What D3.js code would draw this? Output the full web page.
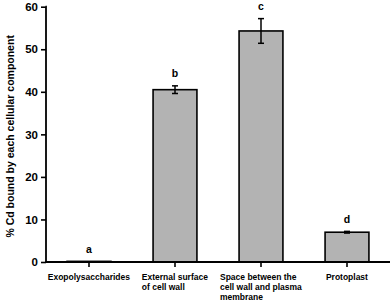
<!DOCTYPE html>
<html><head><meta charset="utf-8">
<script src="https://cdn.jsdelivr.net/npm/d3@7"></script>
<style>body{margin:0;background:#fff}svg{display:block}text{font-family:"Liberation Sans",Arial,sans-serif;font-weight:bold}</style>
</head><body>
<svg id="c" width="392" height="303"></svg>
<script>
const categories = [
  ["Exopolysaccharides"],
  ["External surface", "of cell wall"],
  ["Space between the", "cell wall and plasma", "membrane"],
  ["Protoplast"]
];
const values = [0.15, 40.5, 54.3, 7.0];
const errors = [0.0, 0.9, 2.9, 0.2];
const letters = ["a", "b", "c", "d"];
const yTicks = [0, 10, 20, 30, 40, 50, 60];
const yTitle = "% Cd bound by each cellular component";

(function () {
const svg = d3.select("#c");
const mLeft = 46, mRight = 390, mTop = 6.7, mBottom = 262;
const x = d3.scaleBand().domain(d3.range(categories.length)).range([mLeft, mRight]).paddingInner(0.49).paddingOuter(0.245);
const y = d3.scaleLinear().domain([0, 60]).range([mBottom, mTop]);

// bars
svg.selectAll("rect.bar").data(values).join("rect")
  .attr("x", (d, i) => x(i)).attr("width", x.bandwidth())
  .attr("y", d => y(d)).attr("height", d => y(0) - y(d))
  .attr("fill", "#b3b3b3").attr("stroke", "#000").attr("stroke-width", 1.6);

// error bars
const eg = svg.append("g").attr("stroke", "#000").attr("stroke-width", 1.5);
values.forEach((v, i) => {
  if (errors[i] <= 0) return;
  const cx = x(i) + x.bandwidth() / 2;
  eg.append("line").attr("x1", cx).attr("x2", cx).attr("y1", y(v + errors[i])).attr("y2", y(v - errors[i]));
  [v + errors[i], v - errors[i]].forEach(e => eg.append("line").attr("x1", cx - 3).attr("x2", cx + 3).attr("y1", y(e)).attr("y2", y(e)));
});

// letters
svg.selectAll("text.let").data(letters).join("text")
  .attr("x", (d, i) => x(i) + x.bandwidth() / 2)
  .attr("y", (d, i) => y(values[i] + errors[i]) - 8.5)
  .attr("text-anchor", "middle").attr("font-size", 10.5).text(d => d);

// y axis
const ya = svg.append("g").attr("transform", `translate(${mLeft},0)`)
  .call(d3.axisLeft(y).tickValues(yTicks).tickSize(5).tickPadding(3));
ya.selectAll("text").attr("font-size", 11.5).attr("fill", "#000").style("font-family", '"Liberation Sans",Arial,sans-serif').style("font-weight", "bold");
ya.select(".domain").attr("d", `M-0.5,${mTop}H0V${mBottom}`).attr("stroke-width", 1.8);
ya.selectAll(".tick line").attr("stroke-width", 1.6);

// x axis
const xa = svg.append("g").attr("transform", `translate(0,${mBottom})`)
  .call(d3.axisBottom(x).tickSize(5).tickFormat(""));
xa.select(".domain").attr("d", `M${mLeft - 0.8},0H${mRight}`).attr("stroke-width", 1.8);
xa.selectAll(".tick line").attr("stroke-width", 1.6);

// category labels (left-aligned block centered on tick)
categories.forEach((lines, i) => {
  const g = svg.append("g");
  const t = g.append("text").attr("font-size", 8.5).attr("fill", "#000");
  lines.forEach((l, j) => t.append("tspan").attr("x", 0).attr("y", mBottom + 18.3 + j * 10).text(l));
  const w = t.node().getBBox().width;
  g.attr("transform", `translate(${x(i) + x.bandwidth() / 2 - w / 2},0)`);
});

// y title
svg.append("text").attr("transform", `translate(14,${(mTop + mBottom) / 2 + 2}) rotate(-90)`)
  .attr("text-anchor", "middle").attr("font-size", 10.5).text(yTitle);
})();
</script>
</body></html>
